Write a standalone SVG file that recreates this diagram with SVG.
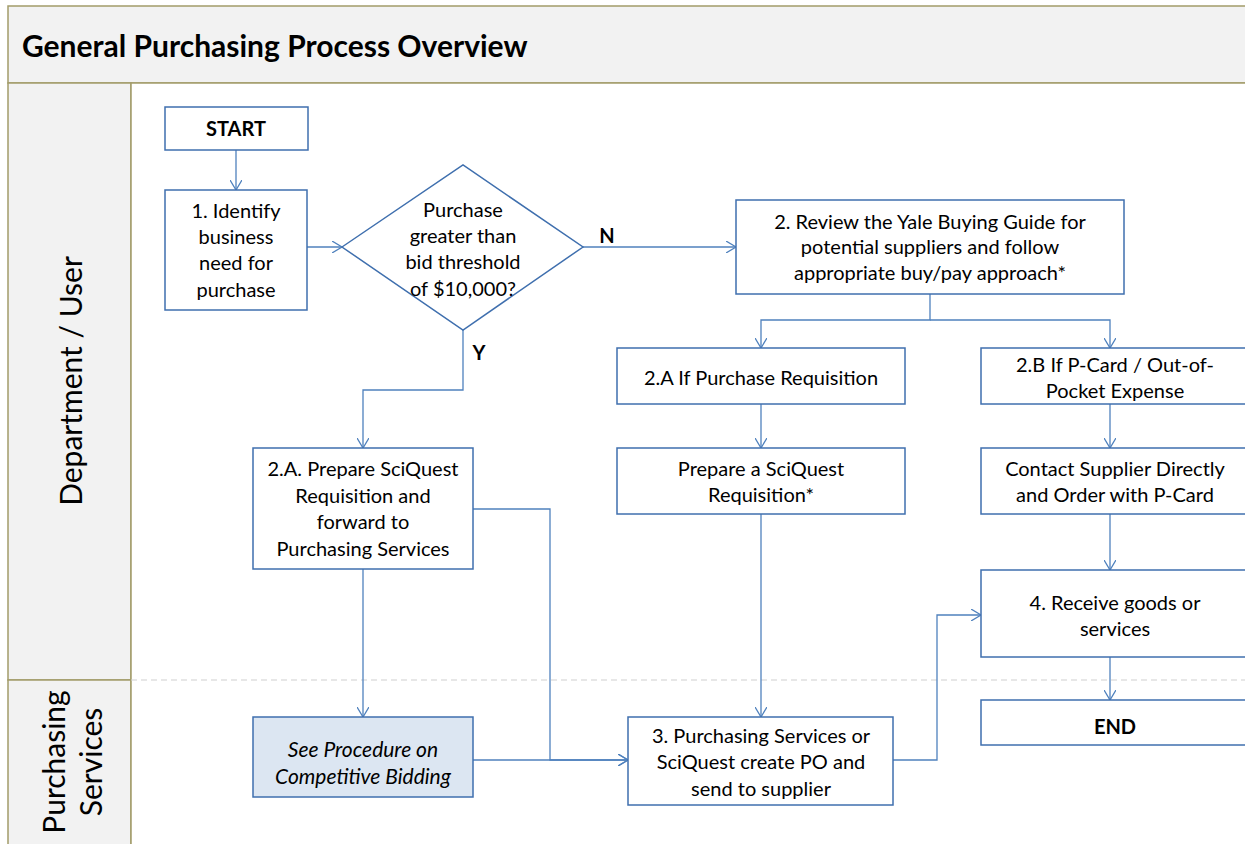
<svg xmlns="http://www.w3.org/2000/svg" width="1245" height="844" viewBox="0 0 1245 844">
<defs>
<marker id="arr" viewBox="0 0 10 12" refX="10" refY="6" markerWidth="10" markerHeight="12" markerUnits="userSpaceOnUse" orient="auto">
<path d="M0,0 L10,6 L0,12" fill="none" stroke="#4f81bd" stroke-width="1.3"/>
</marker>
</defs>
<style>
.box{fill:#ffffff;stroke:#3f6fae;stroke-width:1.5}
.alt{fill:#dce6f2;stroke:#3f6fae;stroke-width:1.5}
.t{font-family:Lato,"Liberation Sans",sans-serif;font-size:20px;fill:#000;text-anchor:middle;dominant-baseline:central}
.b{font-weight:bold}
.i{font-style:italic;font-size:21px}
.c{fill:none;stroke:#4f81bd;stroke-width:1.3}
.lane{fill:#f2f2f2;stroke:#a39c6a;stroke-width:1.5}
.lt{font-family:Lato,"Liberation Sans",sans-serif;font-size:30px;fill:#000;text-anchor:middle;dominant-baseline:central}
</style>
<rect x="0" y="0" width="1245" height="844" fill="#ffffff"/>
<g id="frame">
<rect class="lane" x="8" y="6" width="1245" height="77"/>
<text x="22" y="45" font-family="Lato,'Liberation Sans',sans-serif" font-size="30px" font-weight="bold" dominant-baseline="central">General Purchasing Process Overview</text>
<rect class="lane" x="8" y="83" width="123" height="597"/>
<rect class="lane" x="8" y="680" width="123" height="170"/>
<rect x="131" y="83" width="1120" height="770" fill="#ffffff" stroke="#a39c6a" stroke-width="1.5"/>
<line x1="131" y1="680" x2="1245" y2="680" stroke="#d0d0d0" stroke-width="1.2" stroke-dasharray="6,4"/>
<text class="lt" transform="translate(70,381) rotate(-90)">Department / User</text>
<text class="lt" transform="translate(53,762) rotate(-90)">Purchasing</text>
<text class="lt" transform="translate(90,762) rotate(-90)">Services</text>
</g>
<g id="connectors">
<path class="c" d="M236,150 V190" marker-end="url(#arr)"/>
<path class="c" d="M307,247 H342" marker-end="url(#arr)"/>
<path class="c" d="M583,247 H736" marker-end="url(#arr)"/>
<path class="c" d="M463,330 V390 H363 V448" marker-end="url(#arr)"/>
<path class="c" d="M930,294 V320 H761 V348" marker-end="url(#arr)"/>
<path class="c" d="M930,320 H1110 V348" marker-end="url(#arr)"/>
<path class="c" d="M761,404 V448" marker-end="url(#arr)"/>
<path class="c" d="M1110,404 V448" marker-end="url(#arr)"/>
<path class="c" d="M761,514 V717" marker-end="url(#arr)"/>
<path class="c" d="M1110,514 V570" marker-end="url(#arr)"/>
<path class="c" d="M363,569 V717" marker-end="url(#arr)"/>
<path class="c" d="M473,509 H550 V760 H628" marker-end="url(#arr)"/>
<path class="c" d="M473,760 H628" marker-end="url(#arr)"/>
<path class="c" d="M893,760 H937 V615 H981" marker-end="url(#arr)"/>
<path class="c" d="M1110,657 V700" marker-end="url(#arr)"/>
<text class="t b" x="607" y="235">N</text>
<text class="t b" x="479" y="352">Y</text>
</g>
<g id="start">
<rect class="box" x="165" y="107" width="143" height="43"/>
<text class="t b" x="236" y="128">START</text>
</g>
<g id="identify">
<rect class="box" x="165" y="190" width="142" height="120"/>
<text class="t" x="236" y="210">1. Identify</text>
<text class="t" x="236" y="236">business</text>
<text class="t" x="236" y="262">need for</text>
<text class="t" x="236" y="289">purchase</text>
</g>
<g id="decision">
<polygon class="box" points="342,247 463,165 583,247 463,330"/>
<text class="t" x="463" y="209">Purchase</text>
<text class="t" x="463" y="235">greater than</text>
<text class="t" x="463" y="261">bid threshold</text>
<text class="t" x="463" y="288">of $10,000?</text>
</g>
<g id="review">
<rect class="box" x="736" y="200" width="388" height="94"/>
<text class="t" x="930" y="221">2. Review the Yale Buying Guide for</text>
<text class="t" x="930" y="246">potential suppliers and follow</text>
<text class="t" x="930" y="272">appropriate buy/pay approach*</text>
</g>
<g id="ifreq">
<rect class="box" x="617" y="348" width="288" height="56"/>
<text class="t" x="761" y="377">2.A If Purchase Requisition</text>
</g>
<g id="ifpcard">
<rect class="box" x="981" y="348" width="280" height="56"/>
<text class="t" x="1115" y="364">2.B If P-Card / Out-of-</text>
<text class="t" x="1115" y="390">Pocket Expense</text>
</g>
<g id="prepare">
<rect class="box" x="617" y="448" width="288" height="66"/>
<text class="t" x="761" y="468">Prepare a SciQuest</text>
<text class="t" x="761" y="494">Requisition*</text>
</g>
<g id="contact">
<rect class="box" x="981" y="448" width="280" height="66"/>
<text class="t" x="1115" y="468">Contact Supplier Directly</text>
<text class="t" x="1115" y="494">and Order with P-Card</text>
</g>
<g id="prepare2a">
<rect class="box" x="253" y="448" width="220" height="121"/>
<text class="t" x="363" y="468">2.A. Prepare SciQuest</text>
<text class="t" x="363" y="495">Requisition and</text>
<text class="t" x="363" y="521">forward to</text>
<text class="t" x="363" y="548">Purchasing Services</text>
</g>
<g id="receive">
<rect class="box" x="981" y="570" width="280" height="87"/>
<text class="t" x="1115" y="602">4. Receive goods or</text>
<text class="t" x="1115" y="628">services</text>
</g>
<g id="end">
<rect class="box" x="981" y="700" width="280" height="45"/>
<text class="t b" x="1115" y="726">END</text>
</g>
<g id="bidding">
<rect class="alt" x="253" y="717" width="220" height="80"/>
<text class="t i" x="363" y="748">See Procedure on</text>
<text class="t i" x="363" y="775">Competitive Bidding</text>
</g>
<g id="createpo">
<rect class="box" x="628" y="717" width="265" height="88"/>
<text class="t" x="761" y="735">3. Purchasing Services or</text>
<text class="t" x="761" y="761">SciQuest create PO and</text>
<text class="t" x="761" y="788">send to supplier</text>
</g>
</svg>
